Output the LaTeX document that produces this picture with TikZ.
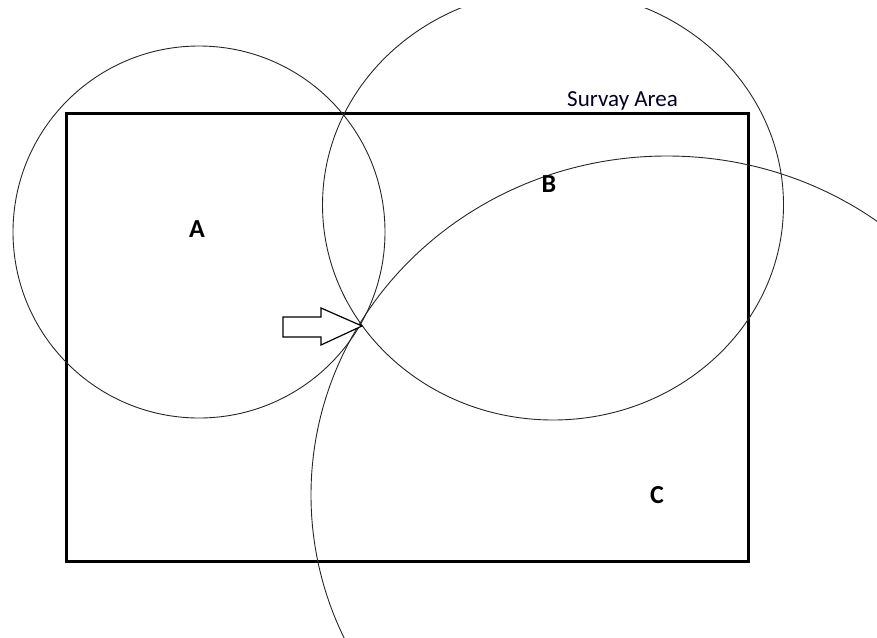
\documentclass[tikz,border=0pt]{standalone}
\usepackage{fontspec}
\setmainfont{Carlito}
\begin{document}
\begin{tikzpicture}[x=1pt,y=-1pt,
  ring/.style={line width=0.9pt, draw=black!85},
  areabox/.style={line width=3pt, draw=black},
  zone/.style={font=\fontsize{26}{26}\selectfont\bfseries, inner sep=0pt, anchor=base},
  caption/.style={font=\fontsize{23}{23}\selectfont, text=black!85!blue, inner sep=0pt, anchor=base west},
  pointer/.style={line width=1.2pt, draw=black, fill=white, line join=miter}]
\useasboundingbox (0,0) rectangle (877,637);
\draw[areabox] (66,113) rectangle (748,561);
\begin{scope}
  \clip (0,8.6) rectangle (877,637);
  \draw[ring] (199,232) circle [radius=186];
  \draw[ring] (553,205) ellipse [x radius=230.5, y radius=215];
  \draw[ring] (667,495) ellipse [x radius=356, y radius=339];
\end{scope}
\coordinate (meet) at (362,326);
\draw[pointer] (283,317) -- (321,317) -- (321,308) -- (meet) -- (321,345) -- (321,337) -- (283,337) -- cycle;
\node[zone] (A) at (197,237) {A};
\node[zone] (B) at (549,192) {B};
\node[zone] (C) at (657,503) {C};
\node[caption] (survey) at (567,106) {Survay Area};
\end{tikzpicture}
\end{document}
